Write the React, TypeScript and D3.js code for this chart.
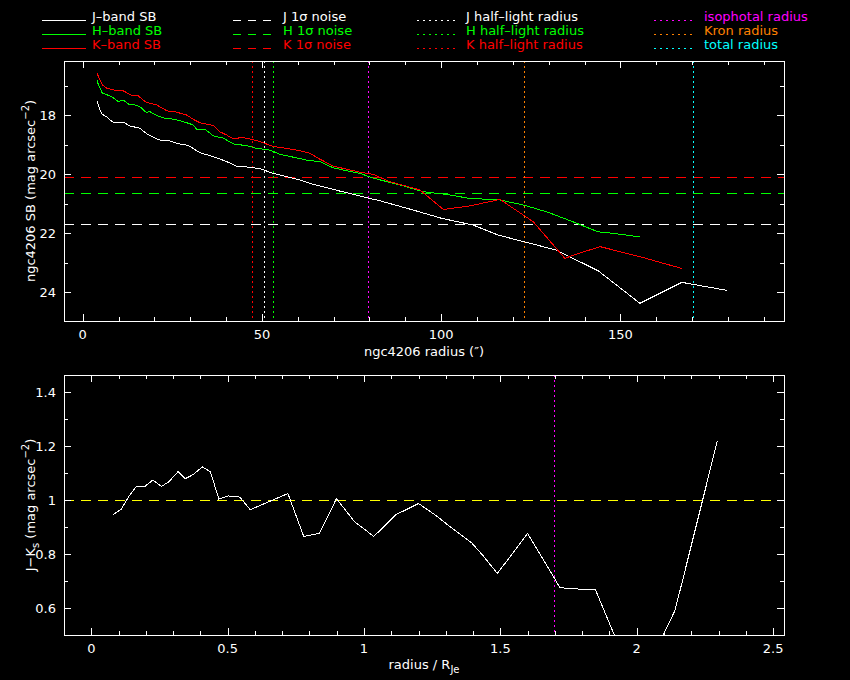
import React, { useEffect } from "react";
import * as d3 from "d3";

// ---------- data ----------
const jBand: [number, number][] = [
  [4.0, 17.53], [4.85, 17.82], [5.5, 17.97], [6.7, 18.05], [7.6, 18.16], [8.6, 18.23], [11.3, 18.23],
  [13.2, 18.36], [16, 18.44], [17.9, 18.63], [20.7, 18.8], [21.6, 18.84], [24.4, 18.87], [26.2, 18.95],
  [29.5, 19.02], [30.9, 19.13], [32.7, 19.27], [35.1, 19.35], [37.8, 19.46], [40.2, 19.57], [42.9, 19.72],
  [46.7, 19.76], [49.5, 19.81], [53.2, 19.97], [56.9, 20.08], [60.6, 20.19], [64.3, 20.34], [68.1, 20.45],
  [71.8, 20.57], [75.5, 20.68], [79.2, 20.79], [83, 20.9], [92.2, 21.21], [100.1, 21.49], [108.9, 21.72],
  [115.9, 22.06], [122, 22.25], [132.2, 22.57], [136.8, 22.85], [143.8, 23.27], [155.4, 24.37],
  [167.1, 23.66], [179.6, 23.93],
];
const hBand: [number, number][] = [
  [4, 16.8], [4.4, 16.97], [5.5, 17.25], [6.7, 17.3], [8.1, 17.37], [10, 17.54], [11.3, 17.48], [12.3, 17.57],
  [13.2, 17.65], [14.1, 17.63], [16, 17.71], [17.7, 17.9], [18.8, 17.88], [20.7, 18.01], [23, 18.1],
  [25.8, 18.14], [29, 18.25], [30.9, 18.33], [31.8, 18.47], [34.1, 18.47], [36.5, 18.7], [39.2, 18.77],
  [42, 18.97], [45.8, 19.03], [48.5, 19.12], [52.3, 19.18], [55, 19.32], [58.8, 19.42], [62.5, 19.52],
  [66.2, 19.57], [69.9, 19.78], [73.7, 19.88], [77.4, 19.97], [81.1, 20.13], [83, 20.19], [88.5, 20.36],
  [95, 20.59], [101.5, 20.68], [107.6, 20.81], [116.4, 20.87], [122.9, 21.04], [129.4, 21.27],
  [136.8, 21.61], [143.8, 21.95], [148, 22.0], [155.4, 22.12],
];
const kBand: [number, number][] = [
  [4, 16.58], [4.85, 16.8], [5.5, 16.97], [6.7, 17.08], [8.6, 17.14], [11.3, 17.17], [12.3, 17.23],
  [13.2, 17.31], [15.5, 17.34], [17.7, 17.56], [20.7, 17.65], [23.5, 17.85], [25.8, 17.88], [29, 17.99],
  [30.9, 18.14], [32.7, 18.25], [36.5, 18.35], [38.3, 18.56], [40.2, 18.67], [42, 18.8], [44.4, 18.75],
  [46.7, 18.8], [49.5, 18.89], [53.2, 19.06], [56.9, 19.12], [60.6, 19.2], [63.4, 19.29], [66.2, 19.49],
  [69.9, 19.72], [72.7, 19.8], [77.4, 19.93], [81.1, 20.0], [82.9, 20.1], [85.7, 20.25], [94.1, 20.53],
  [100.6, 21.19], [108, 21.07], [116.4, 20.85], [122.9, 21.38], [125.7, 21.61], [131.3, 22.4],
  [134.5, 22.85], [136.8, 22.74], [144.3, 22.45], [155.4, 22.79], [167.1, 23.19],
];
const jkColor: [number, number][] = [
  [0.079, 0.945], [0.11, 0.966], [0.14, 1.017], [0.167, 1.052], [0.196, 1.05], [0.226, 1.074],
  [0.257, 1.05], [0.285, 1.068], [0.318, 1.105], [0.345, 1.079], [0.375, 1.095], [0.407, 1.123],
  [0.437, 1.104], [0.468, 1.003], [0.501, 1.015], [0.544, 1.011], [0.583, 0.964], [0.721, 1.024],
  [0.779, 0.865], [0.837, 0.877], [0.899, 1.005], [0.966, 0.919], [1.036, 0.865], [1.116, 0.945],
  [1.2, 0.987], [1.266, 0.941], [1.314, 0.902], [1.357, 0.87], [1.394, 0.842], [1.437, 0.793],
  [1.489, 0.728], [1.6, 0.876], [1.693, 0.719], [1.718, 0.676], [1.752, 0.672], [1.849, 0.667],
  [2.0, 0.3], [2.14, 0.59], [2.165, 0.69], [2.296, 1.22],
];

// noise levels (mag arcsec^-2): J, H, K
const noiseLevels = [21.69, 20.63, 20.1];
// radii (arcsec): J, H, K half-light, isophotal, Kron, total
const radiiValues = [50.7, 53.2, 47.1, 79.7, 123.2, 170.3];
const isoOverRje = 1.695;
const jkReference = 1.0;

const topXTicks = [0, 50, 100, 150];
const topYTicks = [18, 20, 22, 24];
const botXTicks = [0, 0.5, 1, 1.5, 2, 2.5];
const botYTicks = [0.6, 0.8, 1, 1.2, 1.4];
const botXTickLabels = ["0", "0.5", "1", "1.5", "2", "2.5"];
const botYTickLabels = ["0.6", "0.8", "1", "1.2", "1.4"];

const legendSolid = ["J\u2013band SB", "H\u2013band SB", "K\u2013band SB"];
const legendNoise = ["J 1\u03c3 noise", "H 1\u03c3 noise", "K 1\u03c3 noise"];
const legendHalf = ["J half\u2013light radius", "H half\u2013light radius", "K half\u2013light radius"];
const legendRadii = ["isophotal radius", "Kron radius", "total radius"];

// ---------- styles ----------
const bandColors = ["#ffffff", "#00ff00", "#ff0000"];
const radiiColors = ["#ffffff", "#00ff00", "#ff0000", "#ff00ff", "#ff8000", "#00ffff"];
const otherColors = ["#ff00ff", "#ff8000", "#00ffff"];
const FONT = "DejaVu Sans, sans-serif";
const FS = 13;
const L = 64, R = 784;
const T1 = 61, B1 = 321;
const T2 = 375, B2 = 635;

export default function App() {
  useEffect(() => {
    document.body.style.margin = "0";
    document.body.style.background = "#000";
  }, []);

  const x1 = d3.scaleLinear().domain([-5.2, 195.6]).range([L, R]);
  const y1 = d3.scaleLinear().domain([16.16, 24.97]).range([T1, B1]);
  const x2 = d3.scaleLinear().domain([-0.1, 2.54]).range([L, R]);
  const y2 = d3.scaleLinear().domain([0.5, 1.463]).range([B2, T2]);

  const line1 = d3.line<[number, number]>().x((d) => x1(d[0])).y((d) => y1(d[1]));
  const line2 = d3.line<[number, number]>().x((d) => x2(d[0])).y((d) => y2(d[1]));

  const frame = (top: number, bottom: number,
    xs: d3.ScaleLinear<number, number>, ys: d3.ScaleLinear<number, number>,
    xMaj: number[], xMin: number[], yMaj: number[], yMin: number[]) => {
    const els: JSX.Element[] = [];
    const tick = (key: string, x1p: number, y1p: number, x2p: number, y2p: number) =>
      els.push(<line key={key} x1={x1p} y1={y1p} x2={x2p} y2={y2p} stroke="#fff" strokeWidth={1} shapeRendering="crispEdges" />);
    xMaj.forEach((v, i) => {
      const px = Math.round(xs(v)) + 0.5;
      tick("xb" + i, px, bottom, px, bottom - 7);
      tick("xt" + i, px, top, px, top + 7);
    });
    xMin.forEach((v, i) => {
      const px = Math.round(xs(v)) + 0.5;
      tick("xbm" + i, px, bottom, px, bottom - 4);
      tick("xtm" + i, px, top, px, top + 4);
    });
    yMaj.forEach((v, i) => {
      const py = Math.round(ys(v)) + 0.5;
      tick("yl" + i, L, py, L + 7, py);
      tick("yr" + i, R, py, R - 7, py);
    });
    yMin.forEach((v, i) => {
      const py = Math.round(ys(v)) + 0.5;
      tick("ylm" + i, L, py, L + 4, py);
      tick("yrm" + i, R, py, R - 4, py);
    });
    els.push(<rect key="frame" x={L + 0.5} y={top + 0.5} width={R - L} height={bottom - top}
      fill="none" stroke="#fff" strokeWidth={1} shapeRendering="crispEdges" />);
    return els;
  };

  const topXMinor = d3.range(0, 196, 10).filter((v) => v % 50 !== 0);
  const topYMinor = [17, 19, 21, 23];
  const botXMinor = d3.range(0, 25.1, 1).map((v) => v / 10).filter((v) => Math.abs(v * 2 - Math.round(v * 2)) > 1e-6);
  const botYMinor = [0.7, 0.9, 1.1, 1.3];

  const legendYs = [20, 34, 48];

  return (
    <svg width={850} height={680} style={{ display: "block", background: "#000" }} fontFamily={FONT} fontSize={FS}>
      <defs>
        <clipPath id="c1"><rect x={L} y={T1} width={R - L} height={B1 - T1} /></clipPath>
        <clipPath id="c2"><rect x={L} y={T2} width={R - L} height={B2 - T2} /></clipPath>
      </defs>
      <rect x={0} y={0} width={850} height={680} fill="#000" />

      {/* legend */}
      {legendSolid.map((t, i) => (
        <g key={"ls" + i}>
          <line x1={42} x2={86} y1={legendYs[i] + 0.5} y2={legendYs[i] + 0.5} stroke={bandColors[i]} shapeRendering="crispEdges" />
          <text x={92} y={legendYs[i] + 1} fill={bandColors[i]}>{t}</text>
        </g>
      ))}
      {legendNoise.map((t, i) => (
        <g key={"ln" + i}>
          <line x1={233} x2={277} y1={legendYs[i] + 0.5} y2={legendYs[i] + 0.5} stroke={bandColors[i]} strokeDasharray="8,7" shapeRendering="crispEdges" />
          <text x={283} y={legendYs[i] + 1} fill={bandColors[i]}>{t}</text>
        </g>
      ))}
      {legendHalf.map((t, i) => (
        <g key={"lh" + i}>
          <line x1={417} x2={458} y1={legendYs[i] + 0.5} y2={legendYs[i] + 0.5} stroke={bandColors[i]} strokeDasharray="1.5,4.5" shapeRendering="crispEdges" />
          <text x={466} y={legendYs[i] + 1} fill={bandColors[i]}>{t}</text>
        </g>
      ))}
      {legendRadii.map((t, i) => (
        <g key={"lr" + i}>
          <line x1={654} x2={694} y1={legendYs[i] + 0.5} y2={legendYs[i] + 0.5} stroke={otherColors[i]} strokeDasharray="1.5,4.5" shapeRendering="crispEdges" />
          <text x={704} y={legendYs[i] + 1} fill={otherColors[i]}>{t}</text>
        </g>
      ))}

      {/* top panel */}
      <g clipPath="url(#c1)">
        {noiseLevels.map((v, i) => (
          <line key={"n" + i} x1={L} x2={R} y1={Math.round(y1(v)) + 0.5} y2={Math.round(y1(v)) + 0.5}
            stroke={bandColors[i]} strokeDasharray="10,7" shapeRendering="crispEdges" />
        ))}
        {radiiValues.map((v, i) => (
          <line key={"r" + i} x1={Math.round(x1(v)) + 0.5} x2={Math.round(x1(v)) + 0.5} y1={T1} y2={B1}
            stroke={radiiColors[i]} strokeDasharray="2,3" shapeRendering="crispEdges" />
        ))}
        <path d={line1(jBand) || ""} fill="none" stroke={bandColors[0]} strokeWidth={1} shapeRendering="crispEdges" />
        <path d={line1(hBand) || ""} fill="none" stroke={bandColors[1]} strokeWidth={1} shapeRendering="crispEdges" />
        <path d={line1(kBand) || ""} fill="none" stroke={bandColors[2]} strokeWidth={1} shapeRendering="crispEdges" />
      </g>
      {frame(T1, B1, x1, y1, topXTicks, topXMinor, topYTicks, topYMinor)}
      {topXTicks.map((v) => (
        <text key={"tx" + v} x={x1(v)} y={339} fill="#fff" textAnchor="middle">{v}</text>
      ))}
      {topYTicks.map((v) => (
        <text key={"ty" + v} x={56} y={y1(v) + 5} fill="#fff" textAnchor="end">{v}</text>
      ))}
      <text x={(L + R) / 2} y={356} fill="#fff" textAnchor="middle">ngc4206 radius (″)</text>
      <text transform={`translate(35,${(T1 + B1) / 2}) rotate(-90)`} fill="#fff" textAnchor="middle">
        ngc4206 SB (mag arcsec<tspan fontSize={10} dy={-6}>−2</tspan><tspan dy={6}>)</tspan>
      </text>

      {/* bottom panel */}
      <g clipPath="url(#c2)">
        <line x1={L} x2={R} y1={Math.round(y2(jkReference)) + 0.5} y2={Math.round(y2(jkReference)) + 0.5}
          stroke="#ffff00" strokeDasharray="10,7" shapeRendering="crispEdges" />
        <line x1={Math.round(x2(isoOverRje)) + 0.5} x2={Math.round(x2(isoOverRje)) + 0.5} y1={T2} y2={B2}
          stroke="#ff00ff" strokeDasharray="2,3" shapeRendering="crispEdges" />
        <path d={line2(jkColor) || ""} fill="none" stroke="#fff" strokeWidth={1} shapeRendering="crispEdges" />
      </g>
      {frame(T2, B2, x2, y2, botXTicks, botXMinor, botYTicks, botYMinor)}
      {botXTicks.map((v, i) => (
        <text key={"bx" + i} x={x2(v)} y={653} fill="#fff" textAnchor="middle">{botXTickLabels[i]}</text>
      ))}
      {botYTicks.map((v, i) => (
        <text key={"by" + i} x={56} y={y2(v) + 5} fill="#fff" textAnchor="end">{botYTickLabels[i]}</text>
      ))}
      <text x={(L + R) / 2} y={669} fill="#fff" textAnchor="middle">
        radius / R<tspan fontSize={10} dy={4}>Je</tspan>
      </text>
      <text transform={`translate(35,${(T2 + B2) / 2}) rotate(-90)`} fill="#fff" textAnchor="middle">
        J−K<tspan fontSize={10} dy={4}>s</tspan><tspan dy={-4}> (mag arcsec</tspan><tspan fontSize={10} dy={-6}>−2</tspan><tspan dy={6}>)</tspan>
      </text>
    </svg>
  );
}
